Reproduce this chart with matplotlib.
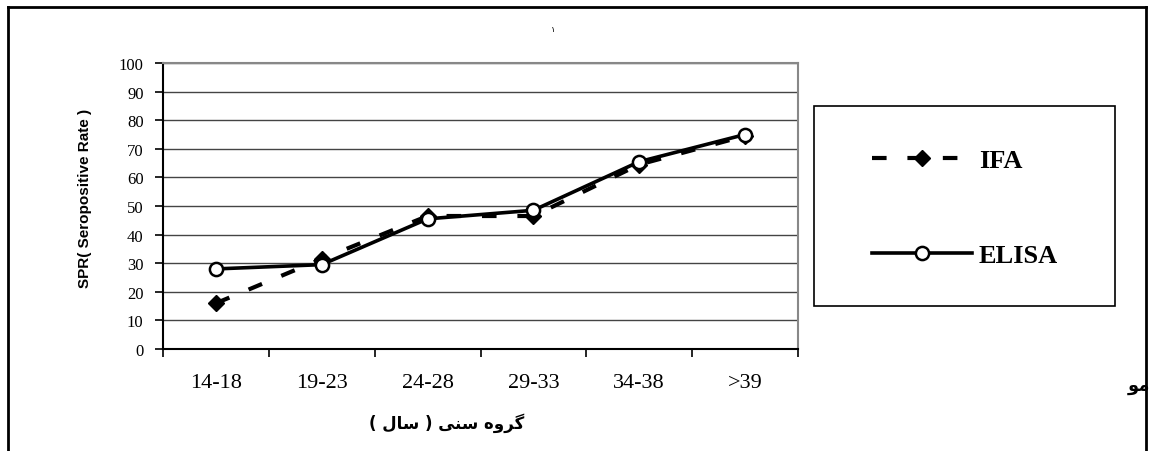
import matplotlib
matplotlib.use("Agg")
import matplotlib.pyplot as plt
from matplotlib.lines import Line2D
from matplotlib.patches import Rectangle

categories = ["14-18", "19-23", "24-28", "29-33", "34-38", ">39"]
ifa = [16, 31.5, 46.5, 46.5, 64.5, 74.5]
elisa = [28, 29.5, 45.5, 48.5, 65.5, 75]
yticks = [0, 10, 20, 30, 40, 50, 60, 70, 80, 90, 100]

# Persian texts in visual (left-to-right) order with presentation forms
xlabel_fa = "( \uFEDD\uFE8E\uFEB3 ) \uFBFD\uFEE8\uFEB3 \uFEE9\uFEED\uFEAE\uFB94"
side_fa = "\uFEEE\uFEE3"
top_fa = "\u06F1"

fig = plt.figure(figsize=(11.51, 4.52), dpi=100)
W, H = 1151, 452
ax = fig.add_axes([163 / W, 1 - 350 / H, (798 - 163) / W, (350 - 64) / H])

x = [i + 0.5 for i in range(len(categories))]
ax.plot(x, ifa, linestyle=(0, (3.5, 5)), color="black", lw=3, marker="D",
        markersize=8.5, markerfacecolor="black", markeredgecolor="black",
        label="IFA", zorder=3)
ax.plot(x, elisa, linestyle="-", color="black", lw=2.6, marker="o",
        markersize=9.5, markerfacecolor="white", markeredgecolor="black",
        markeredgewidth=1.8, label="ELISA", zorder=4)

ax.set_xlim(0, len(categories))
ax.set_ylim(0, 100)
ax.set_yticks(yticks)
ax.set_yticklabels([str(v) for v in yticks], fontfamily="Liberation Serif", fontsize=12)
ax.set_xticks(range(len(categories) + 1))
ax.set_xticklabels([])
ax.set_xticks(x, minor=True)
ax.set_xticklabels(categories, minor=True, fontfamily="Liberation Serif", fontsize=16)
ax.tick_params(axis="x", which="minor", length=0, pad=17)
ax.tick_params(axis="x", which="major", length=6, width=1.2, direction="out")
ax.tick_params(axis="y", length=6, width=1.2, direction="out", pad=8)
ax.grid(axis="y", color="#444444", lw=1)
ax.set_axisbelow(True)
for s in ["top", "right"]:
    ax.spines[s].set_color("#888888")
    ax.spines[s].set_linewidth(1.5)
for s in ["left", "bottom"]:
    ax.spines[s].set_color("black")
    ax.spines[s].set_linewidth(1.5)

ax.set_ylabel("SPR( Seropositive Rate )", fontfamily="Liberation Sans",
              fontweight="bold", fontsize=11)
ax.yaxis.set_label_coords((92 - 163) / 635, 0.53)
fig.text(447 / W, 1 - 423 / H, xlabel_fa, fontfamily="DejaVu Sans",
         fontweight="bold", fontsize=12, ha="center", va="center")

leg = fig.legend(loc="center left", bbox_to_anchor=(872 / W, 1 - 209 / H),
                 bbox_transform=fig.transFigure,
                 prop={"family": "Liberation Serif", "weight": "bold", "size": 19},
                 frameon=False, handlelength=3.8, handletextpad=0.25,
                 labelspacing=2.72, borderpad=0, borderaxespad=0)
fig.add_artist(Rectangle((814 / W, 1 - 307 / H), (1115 - 814) / W, (307 - 107) / H,
                         transform=fig.transFigure, fill=False,
                         edgecolor="black", lw=1.2))

# outer frame
lw = 2
fig.add_artist(Line2D([8 / W, 8 / W], [0, 1 - 8 / H], color="black", lw=lw, transform=fig.transFigure))
fig.add_artist(Line2D([8 / W, 1146 / W], [1 - 8 / H, 1 - 8 / H], color="black", lw=lw, transform=fig.transFigure))
fig.add_artist(Line2D([1146 / W, 1146 / W], [0, 1 - 8 / H], color="black", lw=lw, transform=fig.transFigure))

fig.text(1128 / W, 1 - 386 / H, side_fa, fontfamily="DejaVu Sans",
         fontweight="bold", fontsize=13, ha="left", va="center")
fig.text(553 / W, 1 - 30 / H, top_fa, fontfamily="DejaVu Sans",
         fontsize=6, ha="center", va="center")

fig.savefig("out.png", dpi=100)
